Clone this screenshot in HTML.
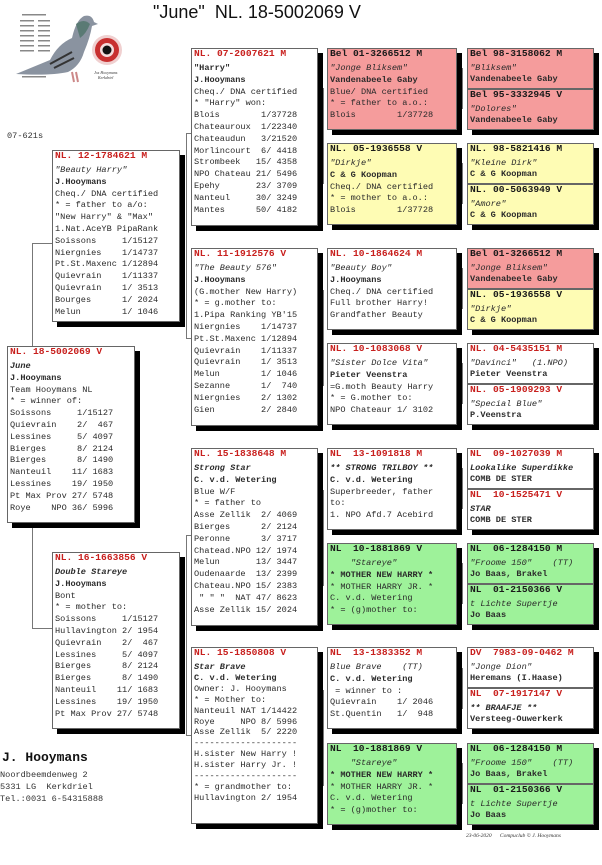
<!DOCTYPE html>
<html><head><meta charset="utf-8">
<style>
body{margin:0;width:602px;height:865px;background:#fff;position:relative;overflow:hidden;font-family:"Liberation Sans",sans-serif}
.b{position:absolute;border:1px solid #666;box-shadow:5px 5px 0 #000;background:#fff;font:8.6px/11.8px "Liberation Mono",monospace;white-space:pre;padding-left:2px;box-sizing:border-box;overflow:hidden;color:#2a2a2a}
.h{font-weight:bold;font-size:9.6px;line-height:10px;height:14px;color:#c8201e}
.k{color:#1a1a1a}
.i{font-style:italic}
.bo{font-weight:bold}
.p{position:absolute;box-shadow:5px 5px 0 #000}
.q{position:absolute;left:0;width:127px;height:41px;border:1px solid #666;box-sizing:border-box;font:8.6px/11px "Liberation Mono",monospace;white-space:pre;padding-left:2px;background:#fff;color:#2a2a2a;overflow:hidden}
.pk{background:#f59c9c}.yl{background:#fefcb4}.gr{background:#9ef29a}
.l{position:absolute;background:#777}
</style></head><body>
<div style="position:absolute;left:153px;top:2px;font-size:18px;color:#111;white-space:pre">"June"  NL. 18-5002069 V</div>

<svg style="position:absolute;left:10px;top:8px" width="115" height="80">
<g fill="#888"><rect x="12" y="6" width="24" height="1.5"/><rect x="10" y="12" width="14" height="1.5"/><rect x="28" y="12" width="12" height="1.5"/><rect x="10" y="17" width="14" height="1.5"/><rect x="28" y="17" width="12" height="1.5"/><rect x="10" y="22" width="14" height="1.5"/><rect x="28" y="22" width="12" height="1.5"/><rect x="10" y="27" width="14" height="1.5"/><rect x="28" y="27" width="12" height="1.5"/><rect x="10" y="32" width="14" height="1.5"/><rect x="28" y="32" width="12" height="1.5"/><rect x="10" y="37" width="14" height="1.5"/><rect x="28" y="37" width="12" height="1.5"/><rect x="10" y="42" width="14" height="1.5"/><rect x="28" y="42" width="12" height="1.5"/><rect x="12" y="68" width="24" height="1.5"/></g>
<path d="M6 66 L40 52 Q48 36 62 30 Q66 12 74 8 Q82 6 84 14 L88 16 L82 18 Q80 30 74 44 Q70 58 58 64 Q40 68 6 66Z" fill="#8a93a0"/>
<path d="M66 16 Q74 10 80 16 Q76 26 70 30Z" fill="#5a7a74"/>
<path d="M40 56 L62 44 M44 60 L64 50" stroke="#333" stroke-width="2"/>
<path d="M62 64 L64 74 M66 64 L68 74" stroke="#c88" stroke-width="2"/>
<circle cx="97" cy="42" r="15" fill="#f0d0d0"/><circle cx="97" cy="42" r="12" fill="#c83030"/><circle cx="97" cy="42" r="7" fill="#f4dcdc"/><circle cx="97" cy="42" r="4.5" fill="#111"/>
<text x="84" y="66" font-size="4" font-style="italic" font-family="Liberation Serif" fill="#333">Jos Hooymans</text>
<text x="88" y="71" font-size="4" font-style="italic" font-family="Liberation Serif" fill="#333">Kerkdriel</text>
</svg>
<div style="position:absolute;left:7px;top:131px;font:8.6px 'Liberation Mono',monospace;color:#333">07-621s</div>

<div class="l" style="left:32px;top:243px;width:1px;height:103px"></div>
<div class="l" style="left:32px;top:243px;width:20px;height:1px"></div>
<div class="l" style="left:32px;top:523px;width:1px;height:105px"></div>
<div class="l" style="left:32px;top:628px;width:20px;height:1px"></div>
<div class="l" style="left:186px;top:133px;width:1px;height:205px"></div>
<div class="l" style="left:186px;top:133px;width:5px;height:1px"></div>
<div class="l" style="left:186px;top:338px;width:5px;height:1px"></div>
<div class="l" style="left:186px;top:535px;width:1px;height:200px"></div>
<div class="l" style="left:186px;top:535px;width:5px;height:1px"></div>
<div class="l" style="left:186px;top:735px;width:5px;height:1px"></div>
<div class="l" style="left:323px;top:88px;width:1px;height:96px"></div>
<div class="l" style="left:323px;top:290px;width:1px;height:96px"></div>
<div class="l" style="left:323px;top:490px;width:1px;height:96px"></div>
<div class="l" style="left:323px;top:690px;width:1px;height:96px"></div>
<div class="l" style="left:462px;top:68px;width:1px;height:41px"></div>
<div class="l" style="left:462px;top:163px;width:1px;height:41px"></div>
<div class="l" style="left:462px;top:268px;width:1px;height:41px"></div>
<div class="l" style="left:462px;top:363px;width:1px;height:41px"></div>
<div class="l" style="left:462px;top:468px;width:1px;height:41px"></div>
<div class="l" style="left:462px;top:563px;width:1px;height:41px"></div>
<div class="l" style="left:462px;top:668px;width:1px;height:41px"></div>
<div class="l" style="left:462px;top:763px;width:1px;height:41px"></div>

<div class="b" style="left:7px;top:346px;width:128px;height:177px"><div class="h">NL. 18-5002069 V</div><span class="i bo">June</span>
<span class="bo">J.Hooymans</span>
Team Hooymans NL
* = winner of:
Soissons     1/15127
Quievrain    2/  467
Lessines     5/ 4097
Bierges      8/ 2124
Bierges      8/ 1490
Nanteuil    11/ 1683
Lessines    19/ 1950
Pt Max Prov 27/ 5748
Roye    NPO 36/ 5996</div>

<div class="b" style="left:52px;top:150px;width:128px;height:172px"><div class="h">NL. 12-1784621 M</div><span class="i">"Beauty Harry"</span>
<span class="bo">J.Hooymans</span>
Cheq./ DNA certified
* = father to a/o:
"New Harry" &amp; "Max"
1.Nat.AceYB PipaRank
Soissons     1/15127
Niergnies    1/14737
Pt.St.Maxenc 1/12894
Quievrain    1/11337
Quievrain    1/ 3513
Bourges      1/ 2024
Melun        1/ 1046</div>

<div class="b" style="left:52px;top:552px;width:128px;height:177px"><div class="h">NL. 16-1663856 V</div><span class="i bo">Double Stareye</span>
<span class="bo">J.Hooymans</span>
Bont
* = mother to:
Soissons     1/15127
Hullavington 2/ 1954
Quievrain    2/  467
Lessines     5/ 4097
Bierges      8/ 2124
Bierges      8/ 1490
Nanteuil    11/ 1683
Lessines    19/ 1950
Pt Max Prov 27/ 5748</div>

<div class="b" style="left:191px;top:48px;width:127px;height:178px"><div class="h">NL. 07-2007621 M</div><span class="bo">"Harry"</span>
<span class="bo">J.Hooymans</span>
Cheq./ DNA certified
* "Harry" won:
Blois        1/37728
Chateauroux  1/22340
Chateaudun   3/21520
Morlincourt  6/ 4418
Strombeek   15/ 4358
NPO Chateau 21/ 5496
Epehy       23/ 3709
Nanteul     30/ 3249
Mantes      50/ 4182</div>

<div class="b" style="left:191px;top:248px;width:127px;height:178px"><div class="h">NL. 11-1912576 V</div><span class="i">"The Beauty 576"</span>
<span class="bo">J.Hooymans</span>
(G.mother New Harry)
* = g.mother to:
1.Pipa Ranking YB'15
Niergnies    1/14737
Pt.St.Maxenc 1/12894
Quievrain    1/11337
Quievrain    1/ 3513
Melun        1/ 1046
Sezanne      1/  740
Niergnies    2/ 1302
Gien         2/ 2840</div>

<div class="b" style="left:191px;top:448px;width:127px;height:178px"><div class="h">NL. 15-1838648 M</div><span class="i bo">Strong Star</span>
<span class="bo">C. v.d. Wetering</span>
Blue W/F
* = father to
Asse Zellik  2/ 4069
Bierges      2/ 2124
Peronne      3/ 3717
Chatead.NPO 12/ 1974
Melun       13/ 3447
Oudenaarde  13/ 2399
Chateau.NPO 15/ 2383
 " " "  NAT 47/ 8623
Asse Zellik 15/ 2024</div>

<div class="b" style="left:191px;top:647px;width:127px;height:177px;line-height:10.9px"><div class="h">NL. 15-1850808 V</div><span class="i bo">Star Brave</span>
<span class="bo">C. v.d. Wetering</span>
Owner: J. Hooymans
* = Mother to:
Nanteuil NAT 1/14422
Roye     NPO 8/ 5996
Asse Zellik  5/ 2220
--------------------
H.sister New Harry !
H.sister Harry Jr. !
--------------------
* = grandmother to:
Hullavington 2/ 1954</div>

<div class="b pk" style="left:327px;top:48px;width:130px;height:82px"><div class="h k">Bel 01-3266512 M</div><span class="i">"Jonge Bliksem"</span>
<span class="bo">Vandenabeele Gaby</span>
Blue/ DNA certified
* = father to a.o.:
Blois        1/37728</div>
<div class="b yl" style="left:327px;top:143px;width:130px;height:82px"><div class="h k">NL. 05-1936558 V</div><span class="i">"Dirkje"</span>
<span class="bo">C &amp; G Koopman</span>
Cheq./ DNA certified
* = mother to a.o.:
Blois        1/37728</div>
<div class="b" style="left:327px;top:248px;width:130px;height:82px"><div class="h">NL. 10-1864624 M</div><span class="i">"Beauty Boy"</span>
<span class="bo">J.Hooymans</span>
Cheq./ DNA certified
Full brother Harry!
Grandfather Beauty</div>
<div class="b" style="left:327px;top:343px;width:130px;height:82px"><div class="h">NL. 10-1083068 V</div><span class="i">"Sister Dolce Vita"</span>
<span class="bo">Pieter Veenstra</span>
=G.moth Beauty Harry
* = G.mother to:
NPO Chateaur 1/ 3102</div>
<div class="b" style="left:327px;top:448px;width:130px;height:82px"><div class="h">NL  13-1091818 M</div><span class="i bo">** STRONG TRILBOY **</span>
<span class="bo">C. v.d. Wetering</span>
Superbreeder, father
to:
1. NPO Afd.7 Acebird</div>
<div class="b gr" style="left:327px;top:543px;width:130px;height:82px"><div class="h k">NL  10-1881869 V</div><span class="i">    "Stareye"</span>
<span class="bo">* MOTHER NEW HARRY *</span>
* MOTHER HARRY JR. *
C. v.d. Wetering
* = (g)mother to:</div>
<div class="b" style="left:327px;top:647px;width:130px;height:82px"><div class="h">NL  13-1383352 M</div><span class="i">Blue Brave    (TT)</span>
<span class="bo">C. v.d. Wetering</span>
 = winner to :
Quievrain    1/ 2046
St.Quentin   1/  948</div>
<div class="b gr" style="left:327px;top:743px;width:130px;height:82px"><div class="h k">NL  10-1881869 V</div><span class="i">    "Stareye"</span>
<span class="bo">* MOTHER NEW HARRY *</span>
* MOTHER HARRY JR. *
C. v.d. Wetering
* = (g)mother to:</div>

<div class="p" style="left:467px;top:48px;width:127px;height:82px">
<div class="q pk" style="top:0"><div class="h k">Bel 98-3158062 M</div><span class="i">"Bliksem"</span>
<span class="bo">Vandenabeele Gaby</span></div>
<div class="q pk" style="top:41px"><div class="h k">Bel 95-3332945 V</div><span class="i">"Dolores"</span>
<span class="bo">Vandenabeele Gaby</span></div></div>

<div class="p" style="left:467px;top:143px;width:127px;height:82px">
<div class="q yl" style="top:0"><div class="h k">NL. 98-5821416 M</div><span class="i">"Kleine Dirk"</span>
<span class="bo">C &amp; G Koopman</span></div>
<div class="q yl" style="top:41px"><div class="h k">NL. 00-5063949 V</div><span class="i">"Amore"</span>
<span class="bo">C &amp; G Koopman</span></div></div>

<div class="p" style="left:467px;top:248px;width:127px;height:82px">
<div class="q pk" style="top:0"><div class="h k">Bel 01-3266512 M</div><span class="i">"Jonge Bliksem"</span>
<span class="bo">Vandenabeele Gaby</span></div>
<div class="q yl" style="top:41px"><div class="h k">NL. 05-1936558 V</div><span class="i">"Dirkje"</span>
<span class="bo">C &amp; G Koopman</span></div></div>

<div class="p" style="left:467px;top:343px;width:127px;height:82px">
<div class="q" style="top:0"><div class="h">NL. 04-5435151 M</div><span class="i">"Davinci"   (1.NPO)</span>
<span class="bo">Pieter Veenstra</span></div>
<div class="q" style="top:41px"><div class="h">NL. 05-1909293 V</div><span class="i">"Special Blue"</span>
<span class="bo">P.Veenstra</span></div></div>

<div class="p" style="left:467px;top:448px;width:127px;height:82px">
<div class="q" style="top:0"><div class="h">NL  09-1027039 M</div><span class="i bo">Lookalike Superdikke</span>
<span class="bo">COMB DE STER</span></div>
<div class="q" style="top:41px"><div class="h">NL  10-1525471 V</div><span class="i bo">STAR</span>
<span class="bo">COMB DE STER</span></div></div>

<div class="p" style="left:467px;top:543px;width:127px;height:82px">
<div class="q gr" style="top:0"><div class="h k">NL  06-1284150 M</div><span class="i">"Froome 150"    (TT)</span>
<span class="bo">Jo Baas, Brakel</span></div>
<div class="q gr" style="top:41px"><div class="h k">NL  01-2150366 V</div><span class="i">t Lichte Supertje</span>
<span class="bo">Jo Baas</span></div></div>

<div class="p" style="left:467px;top:647px;width:127px;height:82px">
<div class="q" style="top:0"><div class="h">DV  7983-09-0462 M</div><span class="i">"Jonge Dion"</span>
<span class="bo">Heremans (I.Haase)</span></div>
<div class="q" style="top:41px"><div class="h">NL  07-1917147 V</div><span class="i bo">** BRAAFJE **</span>
<span class="bo">Versteeg-Ouwerkerk</span></div></div>

<div class="p" style="left:467px;top:743px;width:127px;height:82px">
<div class="q gr" style="top:0"><div class="h k">NL  06-1284150 M</div><span class="i">"Froome 150"    (TT)</span>
<span class="bo">Jo Baas, Brakel</span></div>
<div class="q gr" style="top:41px"><div class="h k">NL  01-2150366 V</div><span class="i">t Lichte Supertje</span>
<span class="bo">Jo Baas</span></div></div>

<div style="position:absolute;left:2px;top:750px;font:bold 13px 'Liberation Mono',monospace;color:#111">J. Hooymans</div>
<div style="position:absolute;left:0;top:769px;font:8.6px/12px 'Liberation Mono',monospace;color:#333;white-space:pre">Noordbeemdenweg 2
5331 LG  Kerkdriel
Tel.:0031 6-54315888</div>
<div style="position:absolute;left:466px;top:833px;font:italic 5.5px 'Liberation Serif',serif;color:#333;white-space:pre">23-06-2020      Compuclub © J. Hooymans</div>
</body></html>
